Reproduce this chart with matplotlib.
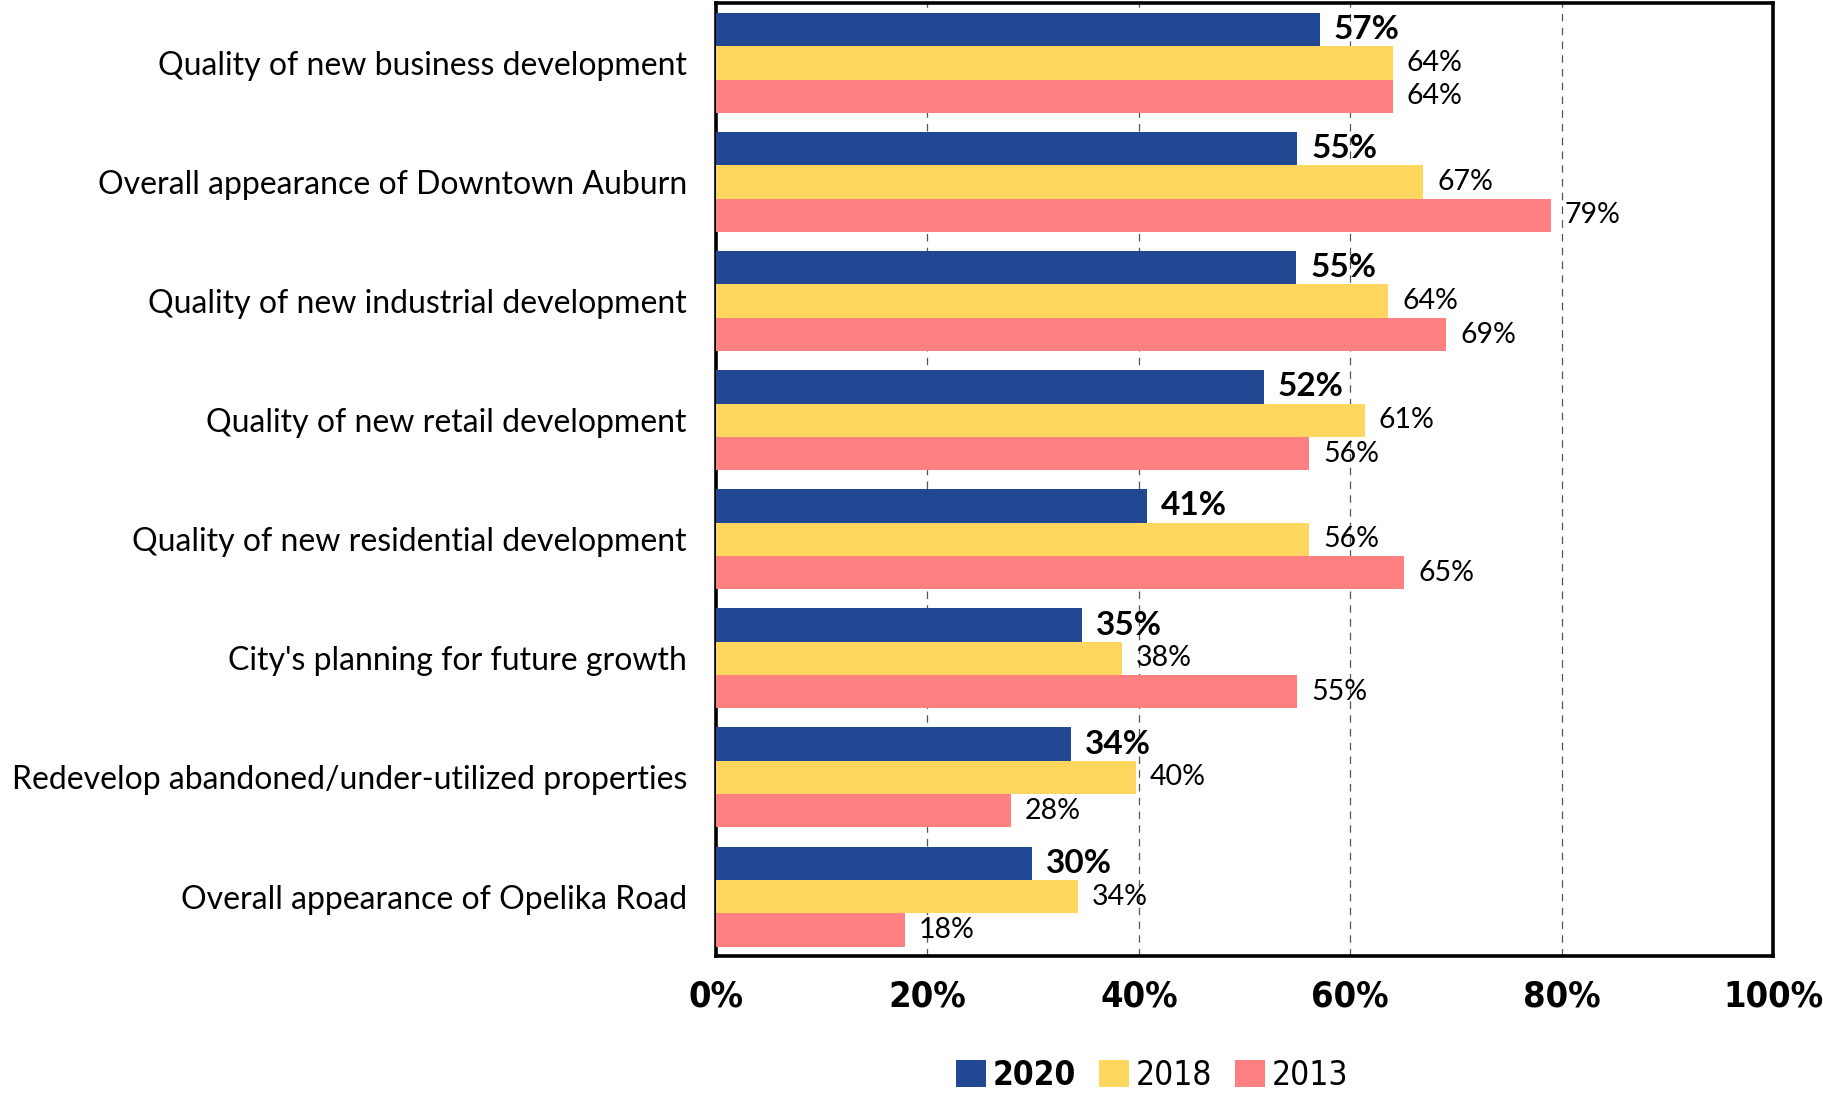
"""Horizontal grouped bar chart: resident satisfaction by year."""

import matplotlib

matplotlib.use("Agg")

from matplotlib import pyplot as plt
from matplotlib import ticker
from matplotlib import font_manager

CATEGORIES = [
    "Quality of new business development",
    "Overall appearance of Downtown Auburn",
    "Quality of new industrial development",
    "Quality of new retail development",
    "Quality of new residential development",
    "City's planning for future growth",
    "Redevelop abandoned/under-utilized properties",
    "Overall appearance of Opelika Road",
]
YEARS = ["2020", "2018", "2013"]
VALUES_2020 = [57.1, 55.0, 54.9, 51.8, 40.8, 34.6, 33.6, 29.9]
VALUES_2018 = [64.0, 66.9, 63.6, 61.4, 56.1, 38.4, 39.7, 34.2]
VALUES_2013 = [64.0, 79.0, 69.1, 56.1, 65.1, 55.0, 27.9, 17.9]
X_TICKS = [0, 20, 40, 60, 80, 100]

COLOR_BLUE = "#224893"
COLOR_YELLOW = "#FFD75F"
COLOR_PINK = "#FF8080"

LABEL_FONT = "Lato"


def narrow_font_path(bold):
    # look for any condensed / narrow face installed on the system
    weight_ok = (lambda w: w in (700, "bold")) if bold else (lambda w: w in (400, "normal", "regular"))
    for entry in font_manager.fontManager.ttflist:
        name = entry.name.lower()
        narrow = "narrow" in name or "condensed" in name or entry.stretch in ("condensed", "semi-condensed")
        if narrow and weight_ok(entry.weight) and entry.style == "normal":
            return entry.fname
    return None


bold_path = narrow_font_path(True)
regular_path = narrow_font_path(False)
if bold_path:
    TICK_PROP = font_manager.FontProperties(fname=bold_path, size=26)
    LEG_BOLD_PROP = font_manager.FontProperties(fname=bold_path, size=24)
else:
    TICK_PROP = font_manager.FontProperties(family="DejaVu Sans", weight="bold", size=23)
    LEG_BOLD_PROP = font_manager.FontProperties(family="DejaVu Sans", weight="bold", size=21)
if regular_path:
    LEG_PROP = font_manager.FontProperties(fname=regular_path, size=24)
else:
    LEG_PROP = font_manager.FontProperties(family="DejaVu Sans", size=21)

fig = plt.figure(figsize=(18.23, 10.93), dpi=100)
ax = fig.add_axes([0.3928, 0.1253, 0.5798, 0.8715])

bar_h = 0.28
series = [
    (VALUES_2020, COLOR_BLUE, -bar_h, True),
    (VALUES_2018, COLOR_YELLOW, 0.0, False),
    (VALUES_2013, COLOR_PINK, bar_h, False),
]
positions = list(range(len(CATEGORIES)))
handles = []
for (values, color, offset, bold), year in zip(series, YEARS):
    ys = [p + offset for p in positions]
    bars = ax.barh(ys, values, height=bar_h, color=color, zorder=3, label=year)
    handles.append(bars)
    for y, v in zip(ys, values):
        ax.annotate(
            f"{v:.0f}%",
            xy=(v, y),
            xytext=(10, 0),
            textcoords="offset points",
            va="center",
            ha="left",
            fontsize=24 if bold else 20.5,
            fontweight="bold" if bold else "normal",
            family=LABEL_FONT,
            color="black",
            zorder=4,
        )

ax.set_xlim(0, 100)
ax.set_ylim(7.5, -0.5)
ax.set_xticks(X_TICKS)
ax.xaxis.set_major_formatter(ticker.PercentFormatter(xmax=100, decimals=0))
ax.set_yticks(positions, CATEGORIES)
ax.tick_params(axis="both", length=0)
ax.tick_params(axis="y", pad=21)
ax.tick_params(axis="x", pad=17)
for label in ax.get_yticklabels():
    label.set_fontfamily(LABEL_FONT)
    label.set_fontsize(23)
for label in ax.get_xticklabels():
    label.set_fontproperties(TICK_PROP)

ax.grid(axis="x", color="#555555", linestyle=(0, (6, 5)), linewidth=0.9, zorder=1)
ax.set_axisbelow(True)
for spine in ax.spines.values():
    spine.set_linewidth(2.6)
    spine.set_color("black")

legend = fig.legend(
    handles=handles,
    labels=YEARS,
    loc="center",
    bbox_to_anchor=(0.632, 0.016),
    ncol=3,
    frameon=False,
    handlelength=0.9,
    handleheight=0.9,
    handletextpad=0.2,
    columnspacing=0.7,
    prop=LEG_PROP,
)
legend.get_texts()[0].set_fontproperties(LEG_BOLD_PROP)

fig.savefig("out.png", dpi=100)
